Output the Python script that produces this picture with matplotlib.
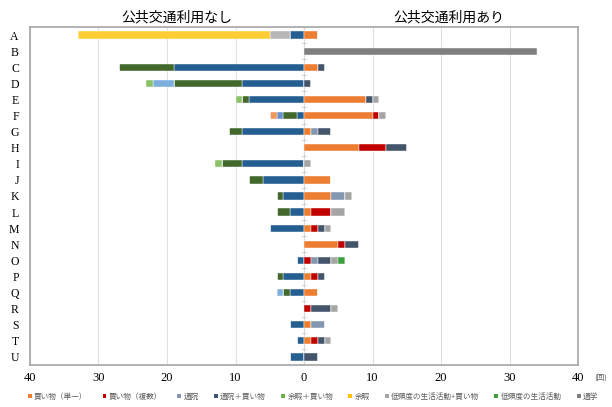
import matplotlib
matplotlib.use('Agg')
import matplotlib.pyplot as plt
from matplotlib.patches import Patch
import numpy as np

plt.rcParams['font.family'] = ['Noto Sans CJK JP', 'DejaVu Sans']

rows = list('ABCDEFGHIJKLMNOPQRSTU')
categories = ['買い物（単一）', '買い物（複数）', '通院', '通院＋買い物', '余暇＋買い物',
              '余暇', '低頻度の生活活動+買い物', '低頻度の生活活動', '通学']

# 公共交通利用なし (drawn to the left)
no_shop1 = [0] * 21
no_shop_multi = [2, 0, 19, 9, 8, 1, 9, 0, 9, 6, 3, 2, 5, 0, 1, 3, 2, 0, 2, 1, 2]
no_clinic = [0, 0, 8, 10, 1, 2, 2, 0, 3, 2, 1, 2, 0, 0, 0, 1, 1, 0, 0, 0, 0]
no_clinic_shop = [0, 0, 0, 0, 0, 1, 0, 0, 0, 0, 0, 0, 0, 0, 0, 0, 0, 0, 0, 0, 0]
no_leisure_shop = [0, 0, 0, 0, 0, 1, 0, 0, 0, 0, 0, 0, 0, 0, 0, 0, 0, 0, 0, 0, 0]
no_leisure = [3, 0, 0, 0, 0, 0, 0, 0, 0, 0, 0, 0, 0, 0, 0, 0, 0, 0, 0, 0, 0]
no_low_shop = [28, 0, 0, 0, 0, 0, 0, 0, 0, 0, 0, 0, 0, 0, 0, 0, 0, 0, 0, 0, 0]
no_low = [0, 0, 0, 3, 0, 0, 0, 0, 0, 0, 0, 0, 0, 0, 0, 0, 1, 0, 0, 0, 0]
no_school = [0, 0, 0, 1, 1, 0, 0, 0, 1, 0, 0, 0, 0, 0, 0, 0, 0, 0, 0, 0, 0]

# 公共交通利用あり (drawn to the right)
yes_shop1 = [2, 0, 2, 0, 9, 10, 1, 8, 0, 4, 4, 1, 1, 5, 0, 1, 2, 0, 1, 1, 0]
yes_shop_multi = [0, 0, 0, 0, 0, 1, 0, 4, 0, 0, 0, 3, 1, 1, 1, 1, 0, 1, 0, 1, 0]
yes_clinic = [0, 0, 0, 0, 0, 0, 1, 0, 0, 0, 2, 0, 0, 0, 1, 0, 0, 0, 2, 0, 0]
yes_clinic_shop = [0, 0, 1, 1, 1, 0, 2, 3, 0, 0, 0, 0, 1, 2, 2, 1, 0, 3, 0, 1, 2]
yes_leisure_shop = [0] * 21
yes_leisure = [0] * 21
yes_low_shop = [0, 0, 0, 0, 1, 1, 0, 0, 1, 0, 1, 2, 1, 0, 1, 0, 0, 1, 0, 1, 0]
yes_low = [0, 0, 0, 0, 0, 0, 0, 0, 0, 0, 0, 0, 0, 0, 1, 0, 0, 0, 0, 0, 0]
yes_school = [0, 34, 0, 0, 0, 0, 0, 0, 0, 0, 0, 0, 0, 0, 0, 0, 0, 0, 0, 0, 0]

left_series = [no_shop1, no_shop_multi, no_clinic, no_clinic_shop, no_leisure_shop,
               no_leisure, no_low_shop, no_low, no_school]
right_series = [yes_shop1, yes_shop_multi, yes_clinic, yes_clinic_shop, yes_leisure_shop,
                yes_leisure, yes_low_shop, yes_low, yes_school]

left_colors = ['#997300', '#255E91', '#43682B', '#698ED0', '#F1975A',
               '#B7B7B7', '#FFCD33', '#7CAFDD', '#8CC168']
right_colors = ['#ED7D31', '#C00000', '#8497B0', '#44546A', '#70AD47',
                '#FFC000', '#A5A5A5', '#3CA03C', '#7F7F7F']

fig = plt.figure(figsize=(6.12, 4.07), dpi=100)
ax = fig.add_axes([30 / 612, 1 - 365 / 407, 548 / 612, 338 / 407])

y = np.arange(len(rows))
bar_h = 0.45

cum = np.zeros(len(rows))
for vals, c in zip(left_series, left_colors):
    v = np.array(vals, dtype=float)
    ax.barh(y, -v, left=-cum, height=bar_h, color=c, edgecolor='white', lw=0.3, zorder=3)
    cum += v

cum = np.zeros(len(rows))
for vals, c in zip(right_series, right_colors):
    v = np.array(vals, dtype=float)
    ax.barh(y, v, left=cum, height=bar_h, color=c, edgecolor='white', lw=0.3, zorder=3)
    cum += v

ax.set_xlim(-40, 40)
ax.set_ylim(len(rows) - 0.5, -0.5)

xt = np.arange(-40, 41, 10)
ax.set_xticks(xt)
ax.set_xticklabels([str(abs(t)) for t in xt], family='Liberation Serif', fontsize=9)
ax.set_yticks(y)
ax.set_yticklabels(rows, family='Liberation Serif', fontsize=8.5)
ax.tick_params(axis='both', length=0)
ax.tick_params(axis='y', pad=8)
ax.tick_params(axis='x', pad=5)

ax.grid(axis='x', color='#E0E0E0', lw=0.8, zorder=0)
ax.set_axisbelow(True)

# axis at 0 with small marks between categories
ax.axvline(0, color='#D9D9D9', lw=0.8, zorder=1)
ax.hlines(np.arange(len(rows) + 1) - 0.5, -0.35, 0.35, color='#D0D0D0', lw=0.8, zorder=1)

for s in ax.spines.values():
    s.set_color('#A6A6A6')
    s.set_linewidth(1.2)

ax.text(0.268, 1.027, '公共交通利用なし', transform=ax.transAxes, ha='center', va='center',
        fontsize=10, color='#000000')
ax.text(0.765, 1.027, '公共交通利用あり', transform=ax.transAxes, ha='center', va='center',
        fontsize=10, color='#000000')

fig.text(594 / 612, 1 - 378 / 407, '(回)', ha='left', va='center', fontsize=5.5, color='#595959')

handles = [Patch(facecolor=c, edgecolor='none') for c in right_colors]
fig.legend(handles, categories, loc='center', bbox_to_anchor=(313 / 612, 1 - 397 / 407),
           ncol=9, frameon=False, fontsize=5.5, labelcolor='#595959',
           handlelength=0.5, handleheight=0.5, handletextpad=0.3, columnspacing=2.0,
           borderpad=0)

fig.savefig('out.png', dpi=100)
